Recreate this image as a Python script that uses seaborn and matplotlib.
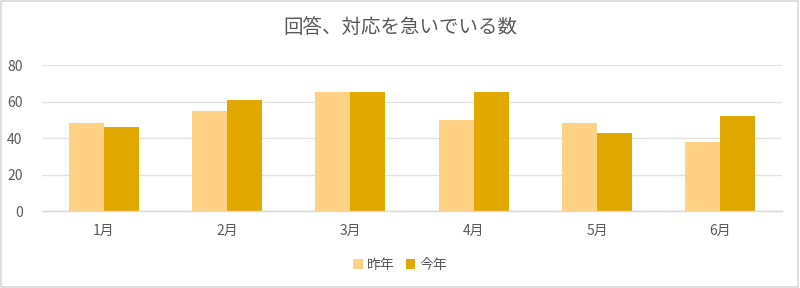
import matplotlib
matplotlib.use("Agg")
import matplotlib.pyplot as plt
import seaborn as sns
import pandas as pd
from matplotlib.patches import Rectangle, Patch

months = ["1月", "2月", "3月", "4月", "5月", "6月"]
last_year = [48, 55, 65, 50, 48, 38]
this_year = [46, 61, 65, 65, 43, 52]
series_names = ["昨年", "今年"]
colors = ["#FFD285", "#E1A900"]

df = pd.DataFrame({
    "month": months * 2,
    "value": last_year + this_year,
    "series": [series_names[0]] * len(months) + [series_names[1]] * len(months),
})

sns.set_theme(style="white")
plt.rcParams["font.family"] = ["Noto Sans CJK JP", "DejaVu Sans"]

fig = plt.figure(figsize=(8.0, 2.88), dpi=100)
ax = fig.add_axes([0.0525, 0.267, 0.925, 0.507])

sns.barplot(data=df, x="month", y="value", hue="series", palette=colors,
            width=0.57, gap=0, ax=ax, legend=False, edgecolor="none", saturation=1)

ax.set_ylim(0, 80)
ax.set_yticks([0, 20, 40, 60, 80])
ax.set_xlim(-0.5, len(months) - 0.5)
ax.set_xlabel("")
ax.set_ylabel("")
ax.yaxis.grid(True, color="#E3E3E3", linewidth=1)
ax.set_axisbelow(True)
for s in ["top", "right", "left"]:
    ax.spines[s].set_visible(False)
ax.spines["bottom"].set_color("#D9D9D9")
ax.spines["bottom"].set_linewidth(1)
ax.tick_params(axis="both", length=0, colors="#595959", labelsize=10)
ax.tick_params(axis="x", pad=9)
ax.tick_params(axis="y", pad=14)

fig.text(0.5, 0.905, "回答、対応を急いでいる数", ha="center", va="center",
         fontsize=14, color="#595959")

handles = [Patch(facecolor=c, edgecolor="none") for c in colors]
fig.legend(handles, series_names, loc="center", bbox_to_anchor=(0.5, 0.08),
           ncol=2, frameon=False, fontsize=10, handlelength=0.7, handleheight=0.7,
           handletextpad=0.3, columnspacing=0.8, labelcolor="#595959")

fig.patches.append(Rectangle((0.001, 0.002), 0.997, 0.995, transform=fig.transFigure,
                             fill=False, edgecolor="#D9D9D9", linewidth=1.2))

fig.savefig("out.png", dpi=100, facecolor="white")
